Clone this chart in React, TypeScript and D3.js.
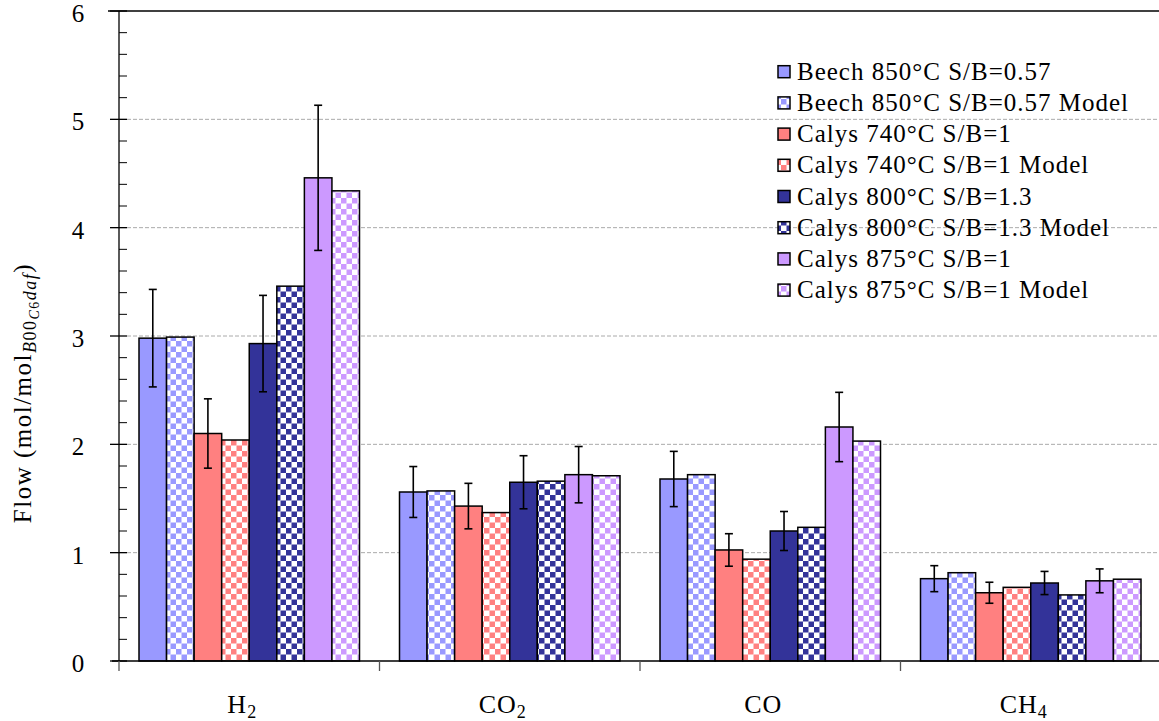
import React, { useEffect, useRef } from 'react';
import * as d3 from 'd3';

// categories and series
const categories = ['H2', 'CO2', 'CO', 'CH4'];
const seriesNames = [
  'Beech 850°C S/B=0.57',
  'Beech 850°C S/B=0.57 Model',
  'Calys 740°C S/B=1',
  'Calys 740°C S/B=1 Model',
  'Calys 800°C S/B=1.3',
  'Calys 800°C S/B=1.3 Model',
  'Calys 875°C S/B=1',
  'Calys 875°C S/B=1 Model',
];

// values per category (H2, CO2, CO, CH4)
const beech = [2.98, 1.56, 1.68, 0.76];
const beechModel = [2.99, 1.57, 1.72, 0.815];
const calys740 = [2.1, 1.43, 1.025, 0.63];
const calys740Model = [2.04, 1.37, 0.94, 0.68];
const calys800 = [2.93, 1.65, 1.2, 0.72];
const calys800Model = [3.46, 1.66, 1.234, 0.61];
const calys875 = [4.46, 1.72, 2.16, 0.74];
const calys875Model = [4.34, 1.71, 2.03, 0.755];

// error bars (half width), only on measured series
const beechErr = [0.45, 0.235, 0.255, 0.12];
const calys740Err = [0.32, 0.21, 0.15, 0.097];
const calys800Err = [0.445, 0.245, 0.18, 0.107];
const calys875Err = [0.67, 0.26, 0.32, 0.11];

const yTicks = [0, 1, 2, 3, 4, 5, 6];

const seriesValues = [
  beech, beechModel, calys740, calys740Model,
  calys800, calys800Model, calys875, calys875Model,
];
const seriesErrors = [
  beechErr, null, calys740Err, null, calys800Err, null, calys875Err, null,
];
const baseColors = ['#9999ff', '#9999ff', '#ff8080', '#ff8080', '#333399', '#333399', '#cc99ff', '#cc99ff'];
const isModel = [false, true, false, true, false, true, false, true];

const W = 1159;
const H = 721;
const FONT = 'Liberation Serif, Times New Roman, serif';

export default function App() {
  const ref = useRef<SVGSVGElement>(null);

  useEffect(() => {
    document.body.style.margin = '0';
    const svg = d3.select(ref.current);
    svg.selectAll('*').remove();

    const left = 119;
    const top = 11;
    const bottom = 661;

    const y = d3.scaleLinear().domain([0, 6]).range([bottom, top]);
    const x = d3.scaleBand().domain(categories).range([left, 1161]).paddingInner(0);
    const bw = x.bandwidth();
    const xs = d3.scaleBand().domain(seriesNames).range([20, bw - 20]);

    // checker patterns
    const defs = svg.append('defs');
    const cell = 5.5;
    baseColors.forEach((c, i) => {
      if (!isModel[i]) return;
      const p = defs
        .append('pattern')
        .attr('id', `chk${i}`)
        .attr('patternUnits', 'userSpaceOnUse')
        .attr('width', cell * 2)
        .attr('height', cell * 2);
      p.append('rect').attr('width', cell * 2).attr('height', cell * 2).attr('fill', '#fff');
      p.append('rect').attr('x', 0).attr('y', 0).attr('width', cell).attr('height', cell).attr('fill', c);
      p.append('rect').attr('x', cell).attr('y', cell).attr('width', cell).attr('height', cell).attr('fill', c);
    });
    const fillOf = (i: number) => (isModel[i] ? `url(#chk${i})` : baseColors[i]);

    // grid lines
    svg
      .append('g')
      .selectAll('line')
      .data(yTicks.filter((t) => t > 0 && t < 6))
      .enter()
      .append('line')
      .attr('x1', left + 8)
      .attr('x2', W)
      .attr('y1', (d) => y(d))
      .attr('y2', (d) => y(d))
      .attr('stroke', '#aaaaaa')
      .attr('stroke-width', 1)
      .attr('stroke-dasharray', '4,2');

    // bars
    seriesNames.forEach((name, si) => {
      const g = svg.append('g');
      g.selectAll('rect')
        .data(seriesValues[si])
        .enter()
        .append('rect')
        .attr('x', (d, ci) => (x(categories[ci]) as number) + (xs(name) as number))
        .attr('y', (d) => y(d))
        .attr('width', xs.bandwidth())
        .attr('height', (d) => y(0) - y(d))
        .attr('fill', fillOf(si))
        .attr('stroke', '#000')
        .attr('stroke-width', 1.5);
    });

    // error bars
    seriesNames.forEach((name, si) => {
      const err = seriesErrors[si];
      if (!err) return;
      const g = svg.append('g').attr('stroke', '#000').attr('stroke-width', 1.6);
      seriesValues[si].forEach((v, ci) => {
        const cx = (x(categories[ci]) as number) + (xs(name) as number) + xs.bandwidth() / 2;
        const y1 = y(v + err[ci]);
        const y2 = y(v - err[ci]);
        g.append('line').attr('x1', cx).attr('x2', cx).attr('y1', y1).attr('y2', y2);
        g.append('line').attr('x1', cx - 4).attr('x2', cx + 4).attr('y1', y1).attr('y2', y1);
        g.append('line').attr('x1', cx - 4).attr('x2', cx + 4).attr('y1', y2).attr('y2', y2);
      });
    });

    // axes
    const axis = svg.append('g').attr('stroke', '#000').attr('stroke-width', 1.3);
    axis.append('line').attr('x1', left).attr('x2', left).attr('y1', top).attr('y2', bottom);
    axis.append('line').attr('x1', 112).attr('x2', W).attr('y1', bottom).attr('y2', bottom);
    axis.append('line').attr('x1', 108).attr('x2', W).attr('y1', top).attr('y2', top);
    // y major ticks
    yTicks.forEach((t) => {
      axis.append('line').attr('x1', 110).attr('x2', 127).attr('y1', y(t)).attr('y2', y(t));
    });
    // y minor ticks
    d3.range(0, 6, 0.2)
      .filter((t) => Math.abs(t - Math.round(t)) > 0.01)
      .forEach((t) => {
        axis.append('line').attr('x1', left).attr('x2', 127).attr('y1', y(t)).attr('y2', y(t)).attr('stroke-width', 1);
      });
    // x ticks at category boundaries
    categories.forEach((c) => {
      const bx = x(c) as number;
      axis.append('line').attr('x1', bx).attr('x2', bx).attr('y1', bottom).attr('y2', bottom + 10).attr('stroke', '#555');
    });

    // y tick labels
    svg
      .append('g')
      .selectAll('text')
      .data(yTicks)
      .enter()
      .append('text')
      .attr('x', 78)
      .attr('y', (d) => y(d) + 11)
      .attr('text-anchor', 'middle')
      .attr('font-family', FONT)
      .attr('font-size', 25)
      .attr('fill', '#000')
      .text((d) => d);

    // x labels with subscripts
    const xl = svg.append('g');
    categories.forEach((c) => {
      const m = c.match(/^([A-Z]+)(\d*)$/);
      const main = m ? m[1] : c;
      const sub = m ? m[2] : '';
      const t = xl
        .append('text')
        .attr('x', (x(c) as number) + bw / 2 - 7)
        .attr('y', 713)
        .attr('text-anchor', 'middle')
        .attr('font-family', FONT)
        .attr('font-size', 26)
        .attr('letter-spacing', 1)
        .attr('fill', '#000');
      t.append('tspan').text(main);
      if (sub) t.append('tspan').attr('font-size', 18).attr('dy', 5).text(sub);
    });

    // y axis title
    const yt = svg
      .append('text')
      .attr('transform', 'translate(31,393) rotate(-90)')
      .attr('text-anchor', 'middle')
      .attr('font-family', FONT)
      .attr('font-size', 25)
      .attr('letter-spacing', 1.5)
      .attr('fill', '#000');
    yt.append('tspan').text('Flow (mol/mol');
    yt.append('tspan').attr('font-size', 18).attr('dy', 5).attr('font-style', 'italic').text('B');
    yt.append('tspan').attr('font-size', 18).text('00');
    yt.append('tspan').attr('font-size', 14).attr('dy', 3).attr('font-style', 'italic').text('C');
    yt.append('tspan').attr('font-size', 14).text('6');
    yt.append('tspan').attr('font-size', 18).attr('dy', -3).attr('font-style', 'italic').text('daf');
    yt.append('tspan').attr('dy', -5).text(')');

    // legend
    const lg = svg.append('g');
    seriesNames.forEach((name, i) => {
      const cy = 71.7 + i * 31.2;
      lg.append('rect')
        .attr('x', 778)
        .attr('y', cy - 6)
        .attr('width', 12)
        .attr('height', 12)
        .attr('fill', fillOf(i))
        .attr('stroke', '#000')
        .attr('stroke-width', 1.5);
      lg.append('text')
        .attr('x', 797)
        .attr('y', cy + 8)
        .attr('font-family', FONT)
        .attr('font-size', 25)
        .attr('letter-spacing', 1)
        .attr('fill', '#000')
        .text(name);
    });
  }, []);

  return <svg ref={ref} width={W} height={H} style={{ display: 'block', background: '#fff' }} />;
}
